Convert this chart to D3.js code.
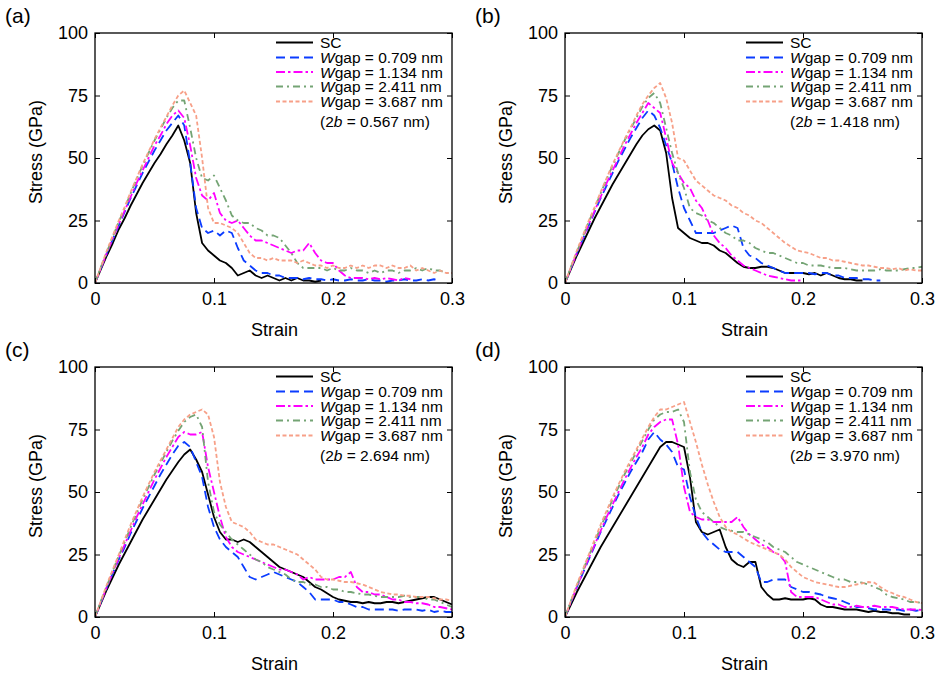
<!DOCTYPE html>
<html>
<head>
<meta charset="utf-8">
<script src="https://cdn.jsdelivr.net/npm/d3@7"></script>
<style>
	body { margin: 0; background: #fff; }
	svg { font-family: Arial, "Liberation Sans", sans-serif; }
</style>
</head>
<body>
<div id="chart"></div>
<script>
// strain grid of the sampled curves
var strain = [0, 0.005, 0.01, 0.015, 0.02, 0.025, 0.03, 0.035, 0.04, 0.045,
	0.05, 0.055, 0.06, 0.065, 0.07, 0.075, 0.08, 0.085, 0.09, 0.095,
	0.1, 0.105, 0.11, 0.115, 0.12, 0.125, 0.13, 0.135, 0.14, 0.145,
	0.15, 0.155, 0.16, 0.165, 0.17, 0.175, 0.18, 0.185, 0.19, 0.195,
	0.2, 0.205, 0.21, 0.215, 0.22, 0.225, 0.23, 0.235, 0.24, 0.245,
	0.25, 0.255, 0.26, 0.265, 0.27, 0.275, 0.28, 0.285, 0.29, 0.295, 0.3];

var seriesNames = ['SC', '0.709', '1.134', '2.411', '3.687'];
var panelLabels = ['(a)', '(b)', '(c)', '(d)'];
var bWidths = ['0.567', '1.418', '2.694', '3.970'];
var xTicks = [0, 0.1, 0.2, 0.3];
var yTicks = [0, 25, 50, 75, 100];

// (a) 2b = 0.567 nm
var aSC = [0, 5.5, 11, 16, 21.5, 26, 31, 35.5, 40, 44, 48, 51.5, 55.5, 59, 63, 57, 48, 28, 16, 13,
	11, 9, 8, 6, 3, 4, 5, 3, 2, 3, 2, 1, 2, 1, 2, 1, 1, 0.5, 1];
var aW1 = [0, 6, 12, 17.5, 23, 28.5, 34, 39, 44, 48.5, 53, 57, 61, 64, 67, 63, 48, 30, 22, 20,
	21, 19, 21, 20, 14, 9, 7, 5, 4, 4, 3, 3, 2, 2, 2, 1.5, 2, 1.5, 1.5, 1,
	1.5, 1, 1, 1.5, 1, 1, 1.5, 1, 1, 0.5, 1, 1, 1.5, 1, 1, 1.5, 1, 1.5, 1];
var aW2 = [0, 6, 12, 18, 23.5, 29, 34.5, 40, 45, 50, 55, 59, 63.5, 67, 69, 66, 55, 42, 35, 33,
	36, 28, 25, 24, 25, 22, 19, 17, 17, 16, 15, 14, 13, 12, 13, 13, 16, 12, 9, 8,
	8, 5, 3, 2, 2, 2, 1.5, 2, 1.5, 2, 1.5, 1, 2, 1.5];
var aW3 = [0, 6.5, 12.5, 18.5, 24.5, 30, 36, 41.5, 47, 52, 57, 61.5, 66, 70, 73, 73, 62, 50, 42, 41,
	43, 38, 33, 27, 25, 24, 24, 22, 21, 19, 19, 18, 15, 12, 8, 6, 6, 6, 6, 5,
	6, 5, 5, 6, 5, 5, 4, 5, 4, 5, 5, 4, 5, 5, 6, 5, 6, 5, 5, 4, 4];
var aW4 = [0, 6.5, 13, 19, 25, 30.5, 36.5, 42, 47.5, 52.5, 57.5, 62, 66.5, 71, 75, 77, 72, 67, 50, 30,
	24, 24, 23, 22, 20, 16, 12, 10, 10, 9, 10, 9, 9, 9, 8, 9, 8, 7, 7, 6,
	7, 6, 6, 7, 6, 7, 6, 7, 7, 6, 7, 6, 6, 7, 5, 6, 5, 4, 5, 4, 4];

// (b) 2b = 1.418 nm
var bSC = [0, 5.5, 11, 16, 21, 26, 30.5, 35, 39.5, 43.5, 47.5, 51.5, 55.5, 59, 61.5, 63, 61, 52, 34, 22,
	20, 18, 17, 16, 16, 15, 13, 12, 10, 8, 6.5, 6, 6, 6.5, 6.5, 6, 5, 4, 4, 4,
	4, 3.5, 4, 3, 4, 3, 2, 1.5, 1.5, 1, 1];
var bW1 = [0, 6, 12, 17.5, 23, 28.5, 34, 39, 44, 49, 53.5, 58, 62, 66, 69, 67, 62, 55, 48, 38,
	30, 25, 20, 20, 20, 20, 21, 22, 23, 22, 14, 11, 10, 8, 7, 6, 5, 4, 4, 4,
	4, 4, 3.5, 4, 4, 3, 3, 2, 2, 2, 1.5, 1.5, 1, 1];
var bW2 = [0, 6, 12, 18, 23.5, 29, 34.5, 40, 45, 50, 55, 59.5, 64, 68, 72, 70, 68, 58, 48, 44,
	40, 38, 33, 30, 25, 19, 16, 14, 11, 9, 7, 6, 5, 4, 3, 2.5, 2, 1.5, 1, 1, 1];
var bW3 = [0, 6.5, 12.5, 18.5, 24.5, 30, 36, 41.5, 47, 52, 57, 61.5, 66, 70.5, 74, 76, 72, 62, 52, 44,
	38, 30, 28, 27, 25, 24, 22, 20, 19, 17, 17, 16, 14, 13, 12, 12, 11, 10, 9, 8,
	8, 7, 7, 7, 6.5, 6, 6, 6, 5.5, 5, 5, 5, 5, 5.5, 5, 5, 5, 5.5, 6, 6, 6.5];
var bW4 = [0, 6.5, 13, 19, 25, 30.5, 36.5, 42, 47.5, 52.5, 57.5, 62, 67, 71.5, 75, 78, 80, 74, 64, 50,
	49, 45, 41, 39, 37, 35, 34, 33, 31, 30, 28, 27, 25, 24, 22, 20, 18, 16, 14.5, 13,
	12.5, 12, 11, 10, 10, 9, 9, 8.5, 8, 7.5, 7, 7, 6.5, 6, 6, 5.5, 6, 5, 5.5, 5, 5];

// (c) 2b = 2.694 nm
var cSC = [0, 5.5, 11, 16, 21, 25.5, 30, 34.5, 39, 43, 47, 51, 55, 58.5, 62, 65, 67, 63, 58, 49,
	40, 34, 31, 31, 30, 31, 30, 28, 26, 24, 22, 20, 19, 18, 17, 16, 14, 12, 11, 9.5,
	8, 7, 6.5, 6, 6, 5.5, 6, 5.5, 5.5, 6, 6, 5.5, 6, 6.5, 7, 7.5, 8, 8, 7, 6, 5];
var cW1 = [0, 6, 12, 17.5, 23, 28, 33.5, 38.5, 43.5, 48, 52.5, 57, 61, 65, 68.5, 70, 68, 62, 56, 44,
	36, 31, 28, 26, 24, 20, 16, 15, 16, 17, 18, 17, 16, 15, 14, 12, 10, 7, 7, 7,
	7, 6, 6, 5, 4, 4, 3, 3, 3, 3, 3, 2.5, 3, 3, 3, 2.5, 3, 2, 2.5, 2, 2];
var cW2 = [0, 6, 12, 18, 23.5, 29, 34.5, 40, 45, 50, 55, 59.5, 64, 68, 72, 74, 73, 73, 74, 60,
	50, 40, 32, 28, 26, 25, 24, 23, 22, 21, 20, 19, 19, 18, 17, 15, 16, 15, 15, 15,
	15, 16, 16, 18, 12, 10, 10, 9, 9, 8, 7, 7, 6, 6, 5.5, 5.5, 5, 4, 4, 3.5, 3];
var cW3 = [0, 6.5, 12.5, 18.5, 24.5, 30, 36, 41.5, 47, 52, 57, 61.5, 66, 70.5, 74.5, 78, 80, 81, 76, 54,
	42, 37, 34, 31, 29, 27, 25, 23, 22, 20, 19, 18, 17, 15, 14, 14, 13, 13, 12, 12,
	11, 11, 10, 10, 9.5, 9, 9, 8.5, 8, 8, 8, 8, 8.5, 8, 8, 8, 7, 7, 6, 5, 4];
var cW4 = [0, 6.5, 13, 19, 25, 31, 37, 42.5, 48, 53, 58, 62.5, 67, 71.5, 76, 79, 81, 82, 83, 81,
	72, 54, 44, 38, 37, 36, 34, 31, 30, 29, 29, 28, 27, 26, 25, 23, 21, 19, 16, 15,
	15, 14.5, 14, 14, 13.5, 13, 12, 11, 10, 9.5, 9, 9, 8.5, 8.5, 8, 8, 8, 7.5, 7, 7, 6.5];

// (d) 2b = 3.970 nm
var dSC = [0, 5, 10, 14.5, 19, 23.5, 28, 32, 36, 40, 44, 48, 52, 56, 60, 64, 68, 70, 70, 69,
	68, 56, 38, 34, 33, 34, 35, 28, 23, 21, 20, 22, 22, 12, 9, 7, 7, 7.5, 7, 7,
	7, 7.5, 7, 5, 4, 4, 3.5, 3, 3, 3, 2.5, 2, 2.5, 2, 2, 1.5, 1.5, 1, 1];
var dW1 = [0, 6, 12, 17.5, 23, 28.5, 34, 39, 44, 49, 53.5, 58, 62, 66, 71, 74, 71, 69, 66, 60,
	59, 48, 40, 34, 31, 29, 27, 26, 26, 26, 24, 22, 20, 14, 14, 15, 15, 15, 12, 11,
	10, 10, 9.5, 9, 8, 7.5, 7, 6, 5, 4, 4, 3.5, 3, 3, 3, 2.8, 3, 2.5, 3, 2.5, 2.8];
var dW2 = [0, 6, 12, 18, 23.5, 29, 34.5, 40, 45, 50, 55, 59.5, 64, 68, 73, 76, 78, 79, 79, 69,
	52, 42, 40, 39, 39, 38, 38, 38, 38, 40, 36, 33, 31, 29, 28, 26, 25, 22, 10, 8,
	8, 8, 8, 7, 6, 5, 5, 4, 4, 4.5, 4, 4, 4.5, 4, 4, 4, 3.5, 3, 3, 3, 2.8];
var dW3 = [0, 6.5, 12.5, 18.5, 24.5, 30, 36, 41.5, 47, 52, 57, 61.5, 66, 70.5, 75, 79, 81, 82, 82, 83,
	78, 58, 47, 42, 40, 38, 36, 35, 34.5, 34, 34, 33, 32, 31, 30, 28, 27, 26, 24, 22,
	21, 20, 19, 18, 17, 16, 15, 15, 14, 14, 13.7, 13, 12, 11, 9, 8, 7.5, 7, 6, 6, 5.6];
var dW4 = [0, 6.5, 13, 19, 25, 31, 37, 42.5, 48, 53, 58, 62.5, 67, 71.5, 76, 80, 83, 83, 84, 85,
	86, 78, 70, 61, 53, 46, 40, 36, 34, 33, 31.5, 30, 29, 28, 27, 26, 25, 23, 20, 18,
	16, 15, 14, 13.5, 13, 12.5, 12, 12, 12.5, 13, 13.5, 14, 13.7, 12, 10.5, 9.6, 8.5, 8, 7, 6, 5.6];

var panelData = [
	[aSC, aW1, aW2, aW3, aW4],
	[bSC, bW1, bW2, bW3, bW4],
	[cSC, cW1, cW2, cW3, cW4],
	[dSC, dW1, dW2, dW3, dW4]
];

// 线型：颜色 + 虚线
var colors = ['#000000', '#0b3cff', '#ff00ff', '#74a474', '#f7a088'];
var dashes = [null, '9,5', '9,3,2.5,3', '7,4,2,4', '4,2.5'];

var W = 947, H = 700;
var plotW = 357, plotH = 250;
var origins = [[95, 33], [565, 33], [95, 367], [565, 367]];

var svg = d3.select('#chart').append('svg')
	.attr('width', W).attr('height', H);

var x = d3.scaleLinear().domain([0, 0.3]).range([0, plotW]);
var y = d3.scaleLinear().domain([0, 100]).range([plotH, 0]);

var line = d3.line()
	.x(function (d, i) { return x(strain[i]); })
	.y(function (d) { return y(d); });

function styleAxis(g) {
	g.select('.domain').remove();
	g.selectAll('.tick line').attr('stroke', '#000').attr('stroke-width', 1);
	g.selectAll('.tick text').attr('fill', '#000');
	g.attr('font-size', 18).attr('font-family', 'Arial, "Liberation Sans", sans-serif');
}

panelData.forEach(function (series, k) {
	var ox = origins[k][0], oy = origins[k][1];
	var g = svg.append('g').attr('transform', 'translate(' + ox + ',' + oy + ')');

	g.append('clipPath').attr('id', 'clip' + k)
		.append('rect').attr('width', plotW).attr('height', plotH);

	// 曲线
	var lines = g.append('g').attr('clip-path', 'url(#clip' + k + ')');
	series.forEach(function (vals, s) {
		lines.append('path')
			.datum(vals)
			.attr('d', line)
			.attr('fill', 'none')
			.attr('stroke', colors[s])
			.attr('stroke-width', 1.8)
			.attr('stroke-linejoin', 'round')
			.attr('stroke-dasharray', dashes[s]);
	});

	// 坐标轴（刻度朝内）
	g.append('g').attr('transform', 'translate(0,' + plotH + ')')
		.call(d3.axisBottom(x).tickValues(xTicks).tickSize(-5).tickPadding(9)
			.tickFormat(function (d) { return d === 0 ? '0' : d3.format('.1f')(d); }))
		.call(styleAxis);
	g.append('g')
		.call(d3.axisTop(x).tickValues(xTicks).tickSize(-5).tickFormat(''))
		.call(styleAxis);
	g.append('g')
		.call(d3.axisLeft(y).tickValues(yTicks).tickSize(-5).tickPadding(7))
		.call(styleAxis);
	g.append('g').attr('transform', 'translate(' + plotW + ',0)')
		.call(d3.axisRight(y).tickValues(yTicks).tickSize(-5).tickFormat(''))
		.call(styleAxis);

	g.append('rect').attr('width', plotW).attr('height', plotH)
		.attr('fill', 'none').attr('stroke', '#000').attr('stroke-width', 1.3);

	// 坐标轴标题
	g.append('text').attr('x', plotW / 2 + 1).attr('y', plotH + 53)
		.attr('text-anchor', 'middle').attr('font-size', 18).text('Strain');
	g.append('text').attr('transform', 'translate(-53,' + (plotH / 2 - 6) + ') rotate(-90)')
		.attr('text-anchor', 'middle').attr('font-size', 18).text('Stress (GPa)');

	// 面板标签
	g.append('text').attr('x', -90).attr('y', -10).attr('font-size', 21).text(panelLabels[k]);

	// 图例
	var lg = g.append('g').attr('font-size', 15.5);
	var rows = [15, 30, 44.5, 59, 74];
	seriesNames.forEach(function (name, s) {
		lg.append('line')
			.attr('x1', 181).attr('x2', 218)
			.attr('y1', rows[s] - 5.5).attr('y2', rows[s] - 5.5)
			.attr('stroke', colors[s]).attr('stroke-width', 1.8)
			.attr('stroke-dasharray', dashes[s]);
		var t = lg.append('text').attr('x', 225).attr('y', rows[s]);
		if (s === 0) {
			t.text(name);
		} else {
			t.append('tspan').attr('font-style', 'italic').text('W');
			t.append('tspan').text('gap = ' + name + ' nm');
		}
	});
	var tb = lg.append('text').attr('x', 225).attr('y', 94);
	tb.append('tspan').text('(2');
	tb.append('tspan').attr('font-style', 'italic').text('b');
	tb.append('tspan').text(' = ' + bWidths[k] + ' nm)');
});
</script>
</body>
</html>
